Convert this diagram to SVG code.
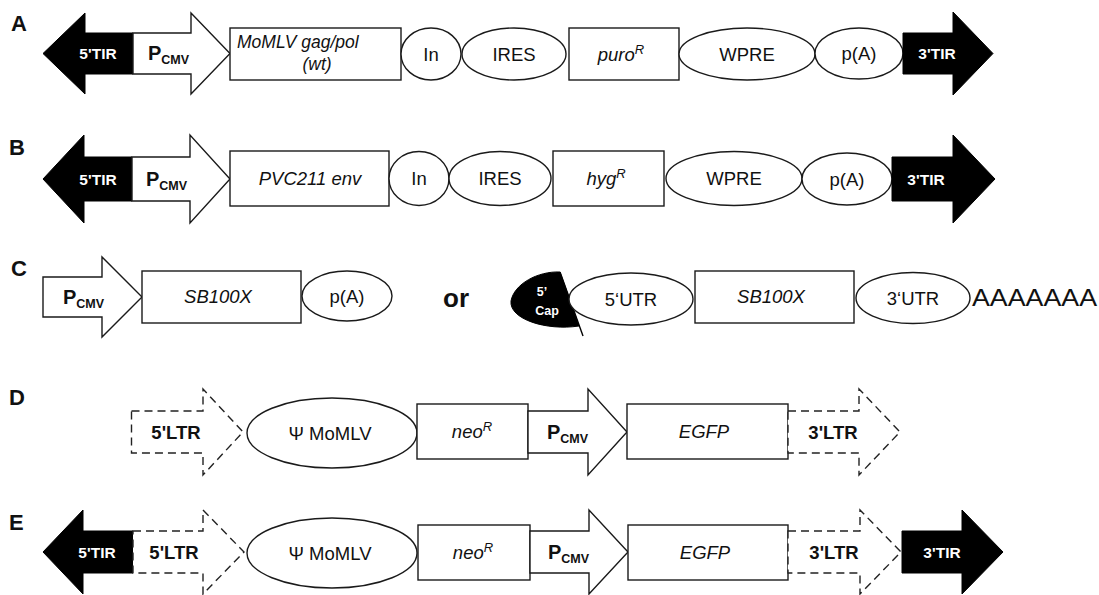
<svg xmlns="http://www.w3.org/2000/svg" width="1099" height="595" viewBox="0 0 1099 595">
  <style>
    .bg { fill: #ffffff; }
    .lbl { font-family: "Liberation Sans", Arial, sans-serif; font-weight: bold; font-size: 22px; fill: #111; }
    .blk { fill: #000; stroke: #000; stroke-width: 1; }
    .shape { fill: #fff; stroke: #1a1a1a; stroke-width: 1.4; }
    .dash { fill: #fff; stroke: #222; stroke-width: 1.4; stroke-dasharray: 8 5; }
    .t { font-family: "Liberation Sans", Arial, sans-serif; font-size: 18.5px; fill: #111; text-anchor: middle; }
    .it { font-style: italic; }
    .b { font-weight: bold; }
    .p { font-size: 20px; }
    .wt { font-family: "Liberation Sans", Arial, sans-serif; font-weight: bold; font-size: 15.5px; fill: #fff; text-anchor: middle; }
    .sub { font-size: 12.5px; font-weight: bold; }
    .sup { font-size: 13px; }
    .cap { font-family: "Liberation Sans", Arial, sans-serif; font-weight: bold; font-size: 12.5px; fill: #fff; text-anchor: middle; }
  </style>
  <rect class="bg" x="0" y="0" width="1099" height="595"/>

  <!-- panel letters -->
  <g id="panel-labels">
    <text class="lbl" x="11" y="31">A</text>
    <text class="lbl" x="9" y="155">B</text>
    <text class="lbl" x="11" y="276">C</text>
    <text class="lbl" x="9" y="405">D</text>
    <text class="lbl" x="9" y="530">E</text>
  </g>

  <!-- ===== Row A ===== -->
  <g id="a-5tir">
    <path class="blk" d="M43,53.5 L85,13 L85,33 L133,33 L133,74 L85,74 L85,94 Z"/>
    <text class="wt" x="98" y="59">5'TIR</text>
  </g>
  <g id="a-pcmv">
    <path class="shape" d="M133,33 L191,33 L191,13 L230,53.5 L191,94 L191,74 L133,74 Z"/>
    <text class="t b p" x="148" y="60" style="text-anchor:start">P<tspan class="sub" dy="4">CMV</tspan></text>
  </g>
  <g id="a-gagpol">
    <rect class="shape" x="230" y="28" width="171" height="52"/>
    <text class="t it" x="237" y="48" style="text-anchor:start;font-size:17.5px">MoMLV gag/pol</text>
    <text class="t it" x="317" y="70" style="font-size:17.5px">(wt)</text>
  </g>
  <g id="a-in">
    <ellipse class="shape" cx="431" cy="54" rx="30" ry="26"/>
    <text class="t" x="431" y="60.5">In</text>
  </g>
  <g id="a-ires">
    <ellipse class="shape" cx="514" cy="54" rx="52" ry="26"/>
    <text class="t" x="514" y="60.5">IRES</text>
  </g>
  <g id="a-puro">
    <rect class="shape" x="569" y="28" width="110" height="52"/>
    <text class="t it" x="621" y="60.5">puro<tspan class="sup" dy="-7">R</tspan></text>
  </g>
  <g id="a-wpre">
    <ellipse class="shape" cx="747" cy="54" rx="68" ry="26"/>
    <text class="t" x="747" y="60.5">WPRE</text>
  </g>
  <g id="a-pa">
    <ellipse class="shape" cx="859" cy="53.5" rx="44" ry="25.5"/>
    <text class="t" x="859" y="60">p(A)</text>
  </g>
  <g id="a-3tir">
    <path class="blk" d="M903,33 L953,33 L953,12 L993,53.5 L953,95 L953,74 L903,74 Z"/>
    <text class="wt" x="937" y="59">3'TIR</text>
  </g>

  <!-- ===== Row B ===== -->
  <g id="b-5tir">
    <path class="blk" d="M43,179 L84,135 L84,157 L132,157 L132,201 L84,201 L84,223 Z"/>
    <text class="wt" x="98" y="184.5">5'TIR</text>
  </g>
  <g id="b-pcmv">
    <path class="shape" d="M132,157 L190,157 L190,135 L230,179 L190,223 L190,201 L132,201 Z"/>
    <text class="t b p" x="146" y="185.5" style="text-anchor:start">P<tspan class="sub" dy="4">CMV</tspan></text>
  </g>
  <g id="b-env">
    <rect class="shape" x="230" y="151" width="159" height="55"/>
    <text class="t it" x="310" y="185">PVC211 env</text>
  </g>
  <g id="b-in">
    <ellipse class="shape" cx="419" cy="178.5" rx="30" ry="27"/>
    <text class="t" x="419" y="185">In</text>
  </g>
  <g id="b-ires">
    <ellipse class="shape" cx="500" cy="178.5" rx="51" ry="27"/>
    <text class="t" x="500" y="185">IRES</text>
  </g>
  <g id="b-hyg">
    <rect class="shape" x="553" y="151" width="111" height="55"/>
    <text class="t it" x="606" y="185">hyg<tspan class="sup" dy="-7">R</tspan></text>
  </g>
  <g id="b-wpre">
    <ellipse class="shape" cx="734" cy="178.5" rx="68" ry="27"/>
    <text class="t" x="734" y="185">WPRE</text>
  </g>
  <g id="b-pa">
    <ellipse class="shape" cx="847" cy="179" rx="45" ry="26"/>
    <text class="t" x="847" y="185.5">p(A)</text>
  </g>
  <g id="b-3tir">
    <path class="blk" d="M892,157 L953,157 L953,135 L995,179 L953,223 L953,201 L892,201 Z"/>
    <text class="wt" x="926" y="184.5">3'TIR</text>
  </g>

  <!-- ===== Row C : plasmid ===== -->
  <g id="c-pcmv">
    <path class="shape" d="M43,277 L102,277 L102,257 L142,297 L102,337 L102,317 L43,317 Z"/>
    <text class="t b p" x="63" y="303.5" style="text-anchor:start">P<tspan class="sub" dy="4">CMV</tspan></text>
  </g>
  <g id="c-sb100x">
    <rect class="shape" x="142" y="271" width="159" height="52"/>
    <text class="t it" x="218" y="303">SB100X</text>
  </g>
  <g id="c-pa">
    <ellipse class="shape" cx="347" cy="296" rx="45" ry="25"/>
    <text class="t" x="347" y="302.5">p(A)</text>
  </g>
  <text id="c-or" x="456" y="307" style="font-family:'Liberation Sans',Arial,sans-serif;font-weight:bold;font-size:26px;fill:#111;text-anchor:middle">or</text>

  <!-- ===== Row C : mRNA ===== -->
  <g id="c-cap">
    <path class="blk" d="M560,272 C538,271 514,284 511,301 C509,319 546,331 579,326 Z"/>
    <line x1="560" y1="272" x2="583" y2="336" stroke="#000" stroke-width="1.4"/>
    <text class="cap" x="542" y="296">5’</text>
    <text class="cap" x="547" y="315">Cap</text>
  </g>
  <g id="c-5utr">
    <ellipse class="shape" cx="631" cy="299" rx="62" ry="26"/>
    <text class="t" x="631" y="305.5">5‘UTR</text>
  </g>
  <g id="c-sb100x-rna">
    <rect class="shape" x="695" y="271" width="159" height="52"/>
    <text class="t it" x="771" y="303">SB100X</text>
  </g>
  <g id="c-3utr">
    <ellipse class="shape" cx="913" cy="298" rx="57" ry="25.5"/>
    <text class="t" x="913" y="304.5">3‘UTR</text>
  </g>
  <text id="c-polya" x="972" y="306" textLength="125" lengthAdjust="spacingAndGlyphs" style="font-family:'Liberation Sans',Arial,sans-serif;font-size:24px;fill:#111">AAAAAAA</text>

  <!-- ===== Row D ===== -->
  <g id="d-5ltr">
    <path class="dash" d="M131.5,411 L203,411 L203,389 L243,432 L203,475 L203,453 L131.5,453 Z"/>
    <text class="t b" x="176" y="438.5">5'LTR</text>
  </g>
  <g id="d-psi">
    <ellipse class="shape" cx="332" cy="433" rx="85" ry="35"/>
    <text class="t" x="330" y="439.5">Ψ MoMLV</text>
  </g>
  <g id="d-neo">
    <rect class="shape" x="417" y="404" width="111" height="55"/>
    <text class="t it" x="472" y="438">neo<tspan class="sup" dy="-7">R</tspan></text>
  </g>
  <g id="d-pcmv">
    <path class="shape" d="M528,411 L588,411 L588,389 L627,432 L588,475 L588,453 L528,453 Z"/>
    <text class="t b p" x="547" y="438.5" style="text-anchor:start">P<tspan class="sub" dy="4">CMV</tspan></text>
  </g>
  <g id="d-egfp">
    <rect class="shape" x="627" y="404" width="161" height="55"/>
    <text class="t it" x="704" y="438">EGFP</text>
  </g>
  <g id="d-3ltr">
    <path class="dash" d="M788,411 L859,411 L859,389 L900,432 L859,475 L859,453 L788,453 Z"/>
    <text class="t b" x="833" y="438.5">3'LTR</text>
  </g>

  <!-- ===== Row E ===== -->
  <g id="e-5tir">
    <path class="blk" d="M43,552 L83,510 L83,531 L133,531 L133,573 L83,573 L83,594 Z"/>
    <text class="wt" x="97" y="557.5">5'TIR</text>
  </g>
  <g id="e-5ltr">
    <path class="dash" d="M133,531 L203,531 L203,510 L244,552 L203,594 L203,573 L133,573 Z"/>
    <text class="t b" x="174" y="558.5">5'LTR</text>
  </g>
  <g id="e-psi">
    <ellipse class="shape" cx="332" cy="553" rx="85" ry="35"/>
    <text class="t" x="330" y="559.5">Ψ MoMLV</text>
  </g>
  <g id="e-neo">
    <rect class="shape" x="418" y="525" width="112" height="55"/>
    <text class="t it" x="473" y="559">neo<tspan class="sup" dy="-7">R</tspan></text>
  </g>
  <g id="e-pcmv">
    <path class="shape" d="M530,531 L589,531 L589,510 L628,552 L589,594 L589,573 L530,573 Z"/>
    <text class="t b p" x="548" y="558.5" style="text-anchor:start">P<tspan class="sub" dy="4">CMV</tspan></text>
  </g>
  <g id="e-egfp">
    <rect class="shape" x="628" y="525" width="160" height="55"/>
    <text class="t it" x="705" y="559">EGFP</text>
  </g>
  <g id="e-3ltr">
    <path class="dash" d="M788,531 L860,531 L860,510 L901,552 L860,594 L860,573 L788,573 Z"/>
    <text class="t b" x="834" y="558.5">3'LTR</text>
  </g>
  <g id="e-3tir">
    <path class="blk" d="M902,531 L962,531 L962,510 L1003,552 L962,594 L962,573 L902,573 Z"/>
    <text class="wt" x="942" y="557.5">3'TIR</text>
  </g>

  <!-- elements sit edge to edge; there are no separate connectors -->
  <g id="connectors"/>
</svg>
